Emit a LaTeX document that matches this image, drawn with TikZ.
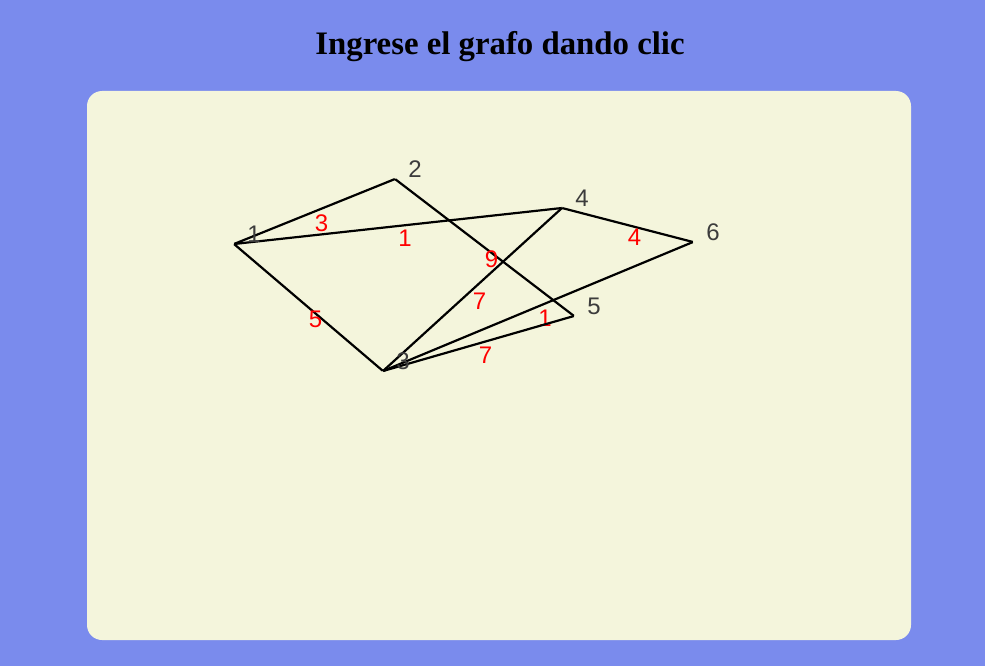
\documentclass[tikz,border=0pt]{standalone}
\usepackage{fontspec}
\usetikzlibrary{calc}
\setmainfont{Liberation Serif}
\newfontfamily\lsans{Liberation Sans}
\definecolor{bgblue}{RGB}{122,139,237}
\definecolor{panel}{RGB}{244,245,220}
\definecolor{vgray}{RGB}{60,60,60}
\tikzset{
  vert/.style={inner sep=0pt, minimum size=0pt},
  vlab/.style={font=\lsans\fontsize{24}{24}\selectfont, text=vgray, inner sep=0pt, anchor=center},
  wlab/.style={font=\lsans\fontsize{24}{24}\selectfont, text=red, inner sep=0pt, anchor=center, shift={(7,12)}},
  edge/.style={draw=black, line width=2.2pt}
}
\begin{document}
\begin{tikzpicture}[x=1pt,y=-1pt]
\fill[bgblue] (0,0) rectangle (985,666);
\useasboundingbox (0,0) rectangle (985,666);
\fill[panel, rounded corners=15pt] (87,91) rectangle (911,640);
\node[font=\bfseries\fontsize{32.8}{38}\selectfont, anchor=base] (title) at (500,55) {Ingrese el grafo dando clic};
% vertices
\node[vert] (n1) at (234,244) {};
\node[vert] (n2) at (395,179) {};
\node[vert] (n3) at (383,371) {};
\node[vert] (n4) at (562,208) {};
\node[vert] (n5) at (574,316) {};
\node[vert] (n6) at (693,242) {};
% edges
\draw[edge] (n1) -- node[wlab]{3} (n2);
\draw[edge] (n1) -- node[wlab]{1} (n4);
\draw[edge] (n1) -- node[wlab]{5} (n3);
\draw[edge] (n2) -- node[wlab]{9} (n5);
\draw[edge] (n3) -- node[wlab]{7} (n4);
\draw[edge] (n4) -- node[wlab]{4} (n6);
\draw[edge] (n3) -- node[wlab]{1} (n6);
\draw[edge] (n3) -- node[wlab]{7} (n5);
% vertex labels
\foreach \i in {1,...,6} {
  \node[vlab] (l\i) at ($(n\i)+(20,-10)$) {\i};
}
\end{tikzpicture}
\end{document}
